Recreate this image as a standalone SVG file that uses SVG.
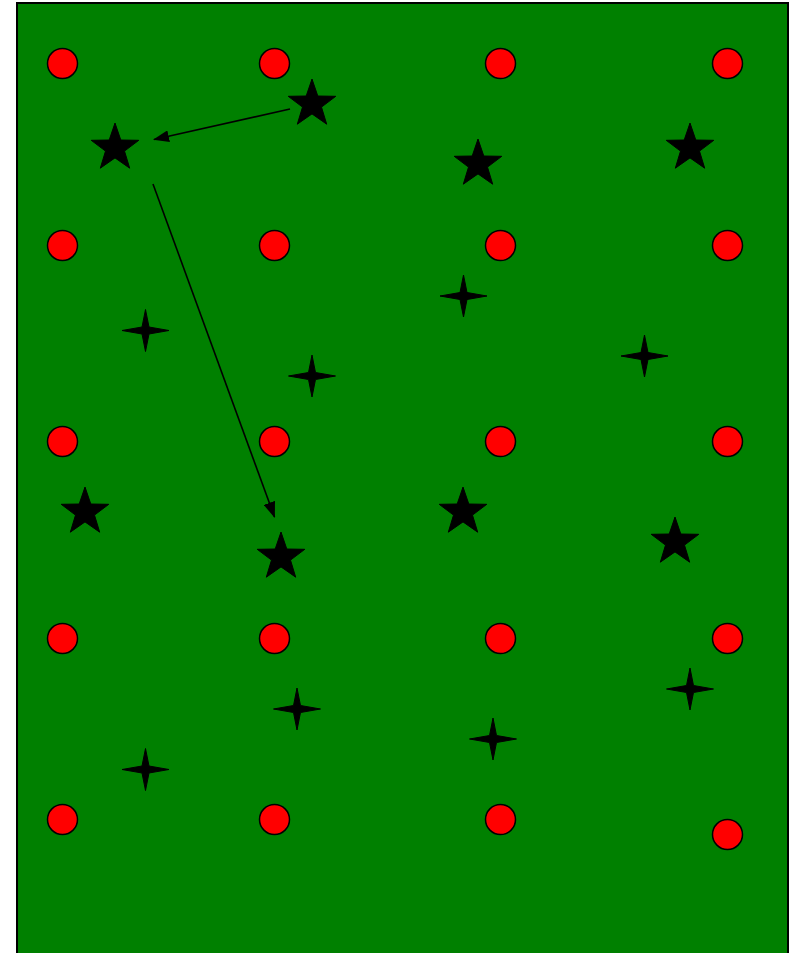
<svg xmlns="http://www.w3.org/2000/svg" width="791" height="953" viewBox="0 0 791 953">
<style>
.dot{fill:#ff0000;stroke:#000;stroke-width:1.5}
.star{fill:#000;stroke:#000;stroke-width:1}
.edge{stroke:#000;stroke-width:1.6;fill:none}
</style>
<defs>
<marker id="ah" markerUnits="userSpaceOnUse" markerWidth="16" markerHeight="12" viewBox="0 0 16 12" refX="15" refY="6" orient="auto">
<path d="M0,0 L16,6 L0,12 Z" fill="#000"/>
</marker>
<path id="s5" d="M0,-25 L5.8,-8 L23.8,-7.7 L9.5,3.1 L14.7,20.2 L0,9.9 L-14.7,20.2 L-9.5,3.1 L-23.8,-7.7 L-5.8,-8 Z"/>
<path id="s4" d="M0,-21 L3.5,-3.5 L23.5,0 L3.5,3.5 L0,21 L-3.5,3.5 L-23.5,0 L-3.5,-3.5 Z"/>
</defs>
<rect x="17" y="3" width="771" height="960" fill="#008000" stroke="#000" stroke-width="2"/>
<g id="dots">
<circle class="dot" cx="62.5" cy="63.5" r="15"/><circle class="dot" cx="274.5" cy="63.5" r="15"/><circle class="dot" cx="500.5" cy="63.5" r="15"/><circle class="dot" cx="727.5" cy="63.5" r="15"/>
<circle class="dot" cx="62.5" cy="245.5" r="15"/><circle class="dot" cx="274.5" cy="245.5" r="15"/><circle class="dot" cx="500.5" cy="245.5" r="15"/><circle class="dot" cx="727.5" cy="245.5" r="15"/>
<circle class="dot" cx="62.5" cy="441.5" r="15"/><circle class="dot" cx="274.5" cy="441.5" r="15"/><circle class="dot" cx="500.5" cy="441.5" r="15"/><circle class="dot" cx="727.5" cy="441.5" r="15"/>
<circle class="dot" cx="62.5" cy="638.5" r="15"/><circle class="dot" cx="274.5" cy="638.5" r="15"/><circle class="dot" cx="500.5" cy="638.5" r="15"/><circle class="dot" cx="727.5" cy="638.5" r="15"/>
<circle class="dot" cx="62.5" cy="819.5" r="15"/><circle class="dot" cx="274.5" cy="819.5" r="15"/><circle class="dot" cx="500.5" cy="819.5" r="15"/><circle class="dot" cx="727.5" cy="834.5" r="15"/>
</g>
<g id="star-a" class="star"><use href="#s5" x="312" y="104"/></g>
<g id="star-b" class="star"><use href="#s5" x="115" y="148"/></g>
<g id="star-c" class="star"><use href="#s5" x="478" y="164"/></g>
<g id="star-d" class="star"><use href="#s5" x="690" y="148"/></g>
<g id="star-e" class="star"><use href="#s5" x="85" y="512"/></g>
<g id="star-f" class="star"><use href="#s5" x="281" y="557"/></g>
<g id="star-g" class="star"><use href="#s5" x="463" y="512"/></g>
<g id="star-h" class="star"><use href="#s5" x="675" y="542"/></g>
<g id="spark-a" class="star"><use href="#s4" x="145.5" y="330.5"/></g>
<g id="spark-b" class="star"><use href="#s4" x="312" y="376"/></g>
<g id="spark-c" class="star"><use href="#s4" x="463.5" y="296"/></g>
<g id="spark-d" class="star"><use href="#s4" x="644.5" y="356"/></g>
<g id="spark-e" class="star"><use href="#s4" x="297" y="709"/></g>
<g id="spark-f" class="star"><use href="#s4" x="690" y="689"/></g>
<g id="spark-g" class="star"><use href="#s4" x="493" y="739"/></g>
<g id="spark-h" class="star"><use href="#s4" x="145.5" y="769.5"/></g>
<g id="connectors">
<line class="edge" x1="290" y1="109" x2="154" y2="139.5" marker-end="url(#ah)"/>
<line class="edge" x1="153" y1="184" x2="274.5" y2="517" marker-end="url(#ah)"/>
</g>
</svg>
